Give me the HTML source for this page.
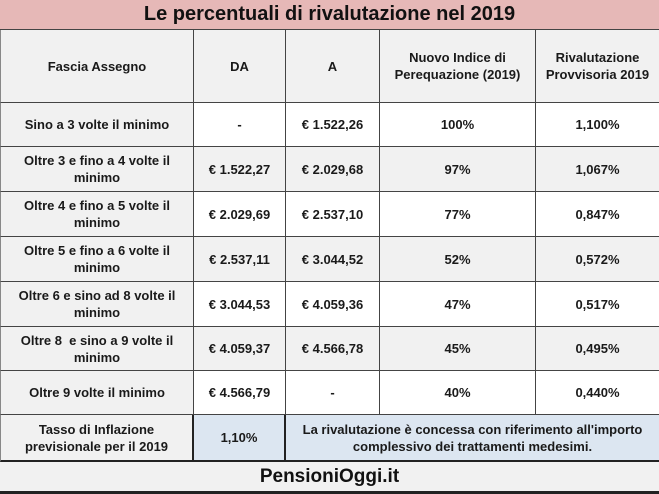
<!DOCTYPE html>
<html><head><meta charset="utf-8"><style>
*{margin:0;padding:0;box-sizing:border-box}
body{width:659px;height:494px;background:#fff;position:relative;overflow:hidden;font-family:"Liberation Sans",Arial,sans-serif;color:#1a1a1a}
.c{position:absolute;display:flex;align-items:center;justify-content:center;text-align:center;font-weight:bold;font-size:13px;line-height:17px;border-right:1px solid #444;border-bottom:1px solid #444}
.g{background:#f1f1f1}.w{background:#fff}.b{background:#dce6f1}
.l{border-left:1px solid #888}
</style></head><body>
<div class="c" style="left:0;top:0;width:659px;height:30px;background:#e6b8b7;font-size:20px;color:#111;border-right:none">Le percentuali di rivalutazione nel 2019</div>
<div class="c g l" style="left:0;top:30px;width:194px;height:73px">Fascia Assegno</div>
<div class="c g" style="left:194px;top:30px;width:92px;height:73px">DA</div>
<div class="c g" style="left:286px;top:30px;width:94px;height:73px">A</div>
<div class="c g" style="left:380px;top:30px;width:156px;height:73px">Nuovo Indice di<br>Perequazione (2019)</div>
<div class="c g" style="left:536px;top:30px;width:123px;height:73px;border-right:none">Rivalutazione<br>Provvisoria 2019</div>

<div class="c g l" style="left:0;top:103px;width:194px;height:44px">Sino a 3 volte il minimo</div>
<div class="c w" style="left:194px;top:103px;width:92px;height:44px">-</div>
<div class="c w" style="left:286px;top:103px;width:94px;height:44px">€ 1.522,26</div>
<div class="c w" style="left:380px;top:103px;width:156px;height:44px">100%</div>
<div class="c w" style="left:536px;top:103px;width:123px;height:44px;border-right:none">1,100%</div>

<div class="c g l" style="left:0;top:147px;width:194px;height:45px">Oltre 3 e fino a 4 volte il<br>minimo</div>
<div class="c g" style="left:194px;top:147px;width:92px;height:45px">€ 1.522,27</div>
<div class="c g" style="left:286px;top:147px;width:94px;height:45px">€ 2.029,68</div>
<div class="c g" style="left:380px;top:147px;width:156px;height:45px">97%</div>
<div class="c g" style="left:536px;top:147px;width:123px;height:45px;border-right:none">1,067%</div>

<div class="c g l" style="left:0;top:192px;width:194px;height:45px">Oltre 4 e fino a 5 volte il<br>minimo</div>
<div class="c w" style="left:194px;top:192px;width:92px;height:45px">€ 2.029,69</div>
<div class="c w" style="left:286px;top:192px;width:94px;height:45px">€ 2.537,10</div>
<div class="c w" style="left:380px;top:192px;width:156px;height:45px">77%</div>
<div class="c w" style="left:536px;top:192px;width:123px;height:45px;border-right:none">0,847%</div>

<div class="c g l" style="left:0;top:237px;width:194px;height:45px">Oltre 5 e fino a 6 volte il<br>minimo</div>
<div class="c g" style="left:194px;top:237px;width:92px;height:45px">€ 2.537,11</div>
<div class="c g" style="left:286px;top:237px;width:94px;height:45px">€ 3.044,52</div>
<div class="c g" style="left:380px;top:237px;width:156px;height:45px">52%</div>
<div class="c g" style="left:536px;top:237px;width:123px;height:45px;border-right:none">0,572%</div>

<div class="c g l" style="left:0;top:282px;width:194px;height:45px">Oltre 6 e sino ad 8 volte il<br>minimo</div>
<div class="c w" style="left:194px;top:282px;width:92px;height:45px">€ 3.044,53</div>
<div class="c w" style="left:286px;top:282px;width:94px;height:45px">€ 4.059,36</div>
<div class="c w" style="left:380px;top:282px;width:156px;height:45px">47%</div>
<div class="c w" style="left:536px;top:282px;width:123px;height:45px;border-right:none">0,517%</div>

<div class="c g l" style="left:0;top:327px;width:194px;height:44px">Oltre 8&nbsp; e sino a 9 volte il<br>minimo</div>
<div class="c g" style="left:194px;top:327px;width:92px;height:44px">€ 4.059,37</div>
<div class="c g" style="left:286px;top:327px;width:94px;height:44px">€ 4.566,78</div>
<div class="c g" style="left:380px;top:327px;width:156px;height:44px">45%</div>
<div class="c g" style="left:536px;top:327px;width:123px;height:44px;border-right:none">0,495%</div>

<div class="c g l" style="left:0;top:371px;width:194px;height:44px">Oltre 9 volte il minimo</div>
<div class="c w" style="left:194px;top:371px;width:92px;height:44px">€ 4.566,79</div>
<div class="c w" style="left:286px;top:371px;width:94px;height:44px">-</div>
<div class="c w" style="left:380px;top:371px;width:156px;height:44px">40%</div>
<div class="c w" style="left:536px;top:371px;width:123px;height:44px;border-right:none">0,440%</div>

<div class="c g l" style="left:0;top:415px;width:194px;height:47px;border-right:2px solid #222;border-bottom:2px solid #222">Tasso di Inflazione<br>previsionale per il 2019</div>
<div class="c b" style="left:194px;top:415px;width:92px;height:47px;border-right:2px solid #222;border-bottom:2px solid #222">1,10%</div>
<div class="c b" style="left:286px;top:415px;width:373px;height:47px;border-right:none;border-bottom:2px solid #222">La rivalutazione è concessa con riferimento all'importo<br>complessivo dei trattamenti medesimi.</div>

<div class="c g" style="left:0;top:462px;width:659px;height:32px;font-size:19px;color:#111;border-right:none;border-bottom:3px solid #222">PensioniOggi.it</div>
</body></html>
